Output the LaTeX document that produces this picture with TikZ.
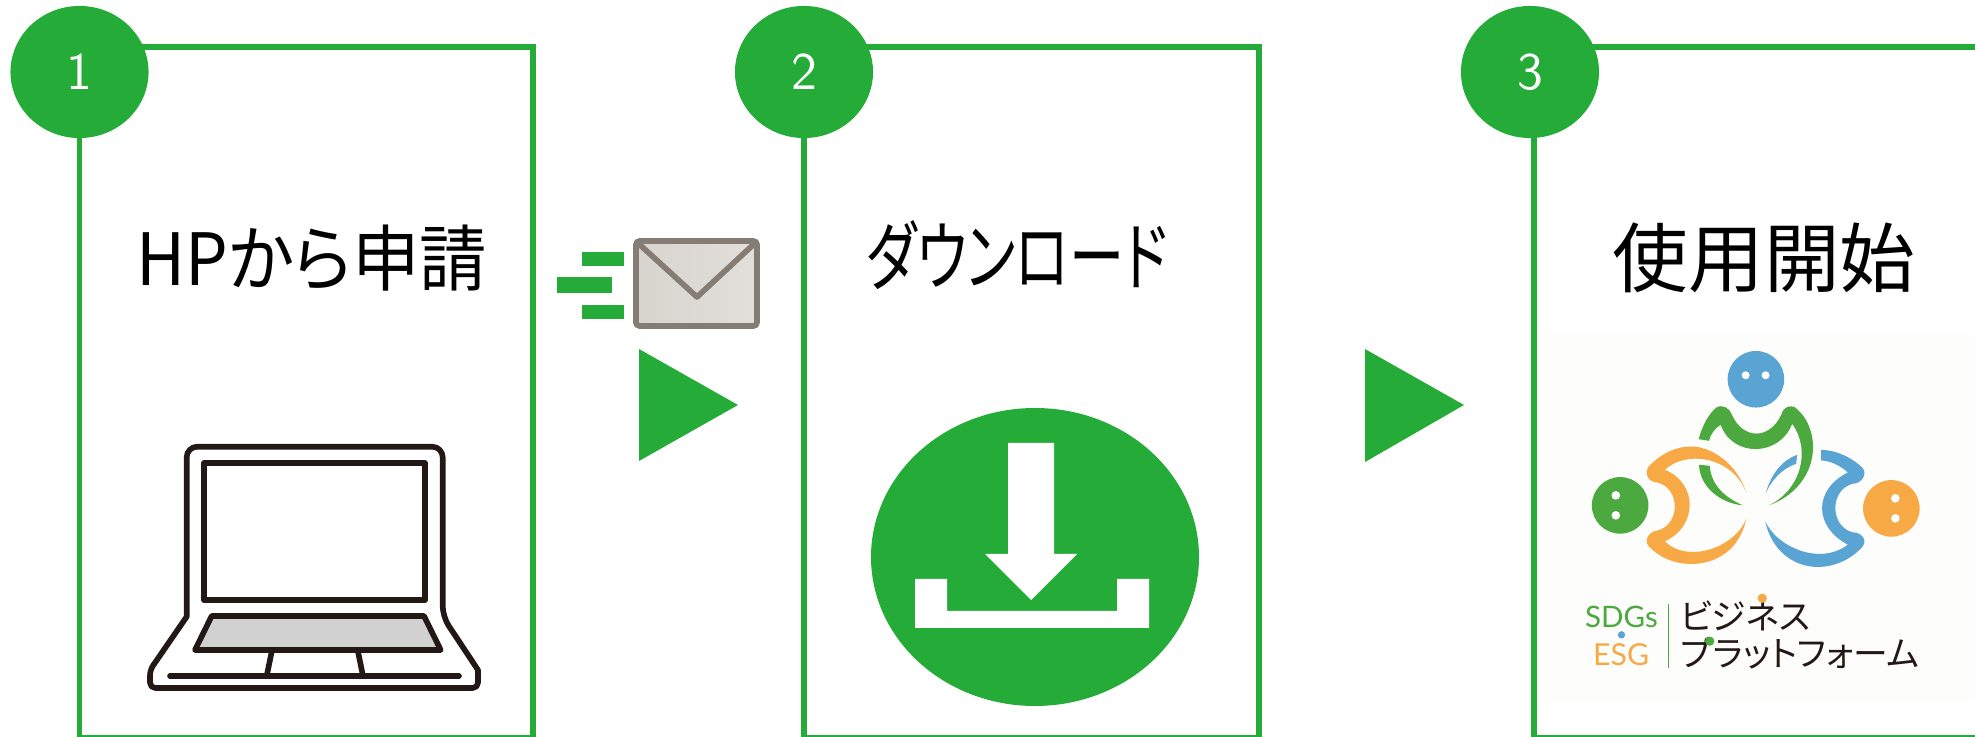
\documentclass[tikz,border=0pt]{standalone}
\usepackage{fontspec}
\usepackage{xcolor}
\usetikzlibrary{shapes.geometric}
\newfontfamily\jpfont[RawFeature=+palt]{Noto Sans CJK JP}
\newfontfamily\logofont{Lato}
\definecolor{stepgreen}{HTML}{25AB38}
\definecolor{lgreen}{HTML}{4BA93F}
\definecolor{lblue}{HTML}{5AA4D4}
\definecolor{lorange}{HTML}{F6A945}
\definecolor{ink}{HTML}{231815}
\definecolor{mailedge}{HTML}{857D74}
\definecolor{mailleft}{HTML}{D8D4CE}
\definecolor{mailright}{HTML}{E2DEDA}
\definecolor{logobg}{HTML}{FDFDFB}
\begin{document}
\begin{tikzpicture}[x=0.01cm, y=-0.01cm, line join=miter,
  fr/.style={draw=stepgreen, line width=1.6pt},
  num/.style={shape=ellipse, fill=stepgreen, text=white, inner sep=0pt, minimum width=1.38cm, minimum height=1.32cm, font=\sffamily\fontsize{15}{15}\selectfont},
  ttl/.style={inner sep=0pt, font=\jpfont\fontsize{20.5}{24}\selectfont},
  tri/.style={fill=stepgreen},
  lap/.style={draw=ink, line width=1.6pt, line join=round},
  wh/.style={fill=white},
  jp/.style={inner sep=0pt, text=ink, font=\jpfont}]
\useasboundingbox (0,0) rectangle (1975,737);
\clip (0,0) rectangle (1975,737);
\draw[fr] (79.5,47) rectangle (533,738);
\draw[fr] (804,47) rectangle (1259,738);
\draw[fr] (1534,47) rectangle (2100,738);
\fill[logobg] (1548,334) rectangle (1975,700);
\node[num] (n1) at (79.5,72) {1};
\node[num] (n2) at (804,72) {2};
\node[num] (n3) at (1530,72) {3};
\node[ttl] (t1) at (312,258) {\scalebox{0.935}[1]{HPから申請}};
\node[ttl] (t2) at (1017,255) {\fontsize{21.5}{24}\selectfont\scalebox{0.73}[1]{ダウンロード}};
\node[ttl] (t3) at (1764,258) {\fontsize{21.5}{24}\selectfont 使用開始};
\draw[lap] (186.7,616.7) [rounded corners=3pt] -- (186.7,446.7) -- (442.7,446.7) -- (442.7,616.7) [sharp corners] -- (478,670) [rounded corners=1.5pt] -- (478,688) -- (150,688) -- (150,670) [sharp corners] -- cycle;
\draw[lap] (204,463) rectangle (425,600);
\draw[lap, fill=black!18] (211.7,616) -- (424,616) -- (440.7,650) -- (195,650) -- cycle;
\draw[lap] (271.7,651.7) -- (266.7,676);
\draw[lap] (358,651.7) -- (363,676);
\draw[lap, line cap=round] (170,676) -- (459,676);
\fill[tri] (582,252) rectangle (624,266);
\fill[tri] (557,277) rectangle (612,293);
\fill[tri] (582,305) rectangle (624,319);
\draw[draw=mailedge, left color=mailleft, right color=mailright, line width=1.6pt, rounded corners=1pt] (636,241) rectangle (757,326);
\draw[draw=mailedge, line width=1.6pt, line join=round] (639,244) -- (697,297) -- (754,244);
\fill[tri] (639,349) -- (738,405) -- (639,461) -- cycle;
\fill[tri] (1365,349) -- (1464,405) -- (1365,462) -- cycle;
\fill[stepgreen] (1035,557) ellipse [x radius=164, y radius=149];
\fill[wh] (1008,443) -- (1054,443) -- (1054,554) -- (1077,554) -- (1031,600) -- (985,554) -- (1008,554) -- cycle;
\fill[wh] (915,579) -- (947,579) -- (947,611) -- (1117,611) -- (1117,579) -- (1149,579) -- (1149,628) -- (915,628) -- cycle;
\begin{scope}[shift={(1500,330)}, x=0.003333cm, y=-0.003333cm]
\fill[lblue] (769,148) circle [radius=85];
\fill[wh] (738,136) circle [radius=12] (798,136) circle [radius=12];
\fill[lgreen] (361,527) circle [radius=85];
\fill[wh] (348,497) circle [radius=13] (348,557) circle [radius=13];
\fill[lorange] (1176,536) circle [radius=85];
\fill[wh] (1188,506) circle [radius=13] (1188,566) circle [radius=13];
\fill[lgreen] (597,328) .. controls (610,280) and (630,250) .. (650,233) .. controls (670,222) and (690,235) .. (697,255) .. controls (730,330) and (810,330) .. (845,255) .. controls (850,230) and (880,220) .. (895,240) .. controls (970,310) and (960,470) .. (808,527) .. controls (905,480) and (935,360) .. (878,282) .. controls (840,380) and (700,385) .. (663,285) .. controls (645,295) and (632,315) .. (628,333) -- cycle;
\fill[lgreen] (598,405) .. controls (600,470) and (660,520) .. (730,527) .. controls (680,505) and (635,470) .. (630,408) -- cycle;
\fill[lblue] (798,492) .. controls (815,430) and (850,390) .. (893,375) -- (890,402) .. controls (850,415) and (815,450) .. (798,492) -- cycle;
\fill[lorange] (740,490) .. controls (710,395) and (630,350) .. (575,350) .. controls (520,350) and (475,380) .. (447,410) .. controls (430,435) and (450,458) .. (472,458) .. controls (543,475) and (543,585) .. (472,603) .. controls (450,605) and (430,630) .. (447,650) .. controls (475,680) and (520,703) .. (575,703) .. controls (650,703) and (720,660) .. (740,568) .. controls (700,660) and (560,700) .. (495,635) .. controls (595,590) and (595,460) .. (495,420) .. controls (560,360) and (700,380) .. (740,490) -- cycle;
\fill[lblue] (965,360) .. controls (1020,362) and (1065,390) .. (1090,415) .. controls (1105,435) and (1085,462) .. (1060,462) .. controls (990,480) and (990,590) .. (1060,608) .. controls (1085,608) and (1105,630) .. (1090,650) .. controls (1060,685) and (1010,712) .. (955,712) .. controls (880,712) and (815,660) .. (797,575) .. controls (830,650) and (960,710) .. (1045,645) .. controls (942,590) and (942,480) .. (1045,428) .. controls (1020,405) and (990,393) .. (965,392) -- cycle;
\node[inner sep=0pt, text=lgreen, font=\logofont\fontsize{8.4}{9}\selectfont] (sdg) at (365,862) {SDGs};
\node[inner sep=0pt, text=lorange, font=\logofont\fontsize{8.6}{9}\selectfont] (esg) at (364,977) {ESG};
\fill[lblue] (365,916) circle [radius=11];
\draw[lgreen, line width=0.3pt] (505,822) -- (505,1016);
\node[jp, font=\jpfont\fontsize{9.9}{10}\selectfont] (biz) at (737,858) {ビジネス};
\node[jp, font=\jpfont\fontsize{9.9}{10}\selectfont] (plat) at (902,972) {プラットフォーム};
\fill[lorange] (788,806) circle [radius=14];
\fill[lgreen] (630,935) circle [radius=14];
\end{scope}
\end{tikzpicture}
\end{document}
